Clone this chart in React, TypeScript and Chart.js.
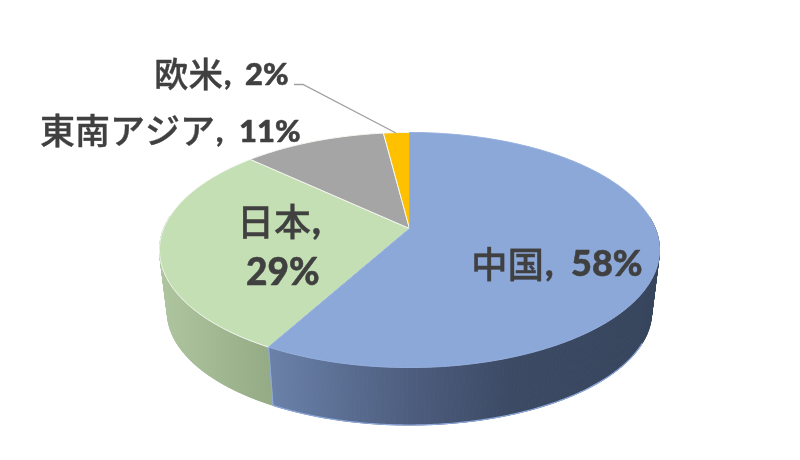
import React, { useEffect, useRef } from "react";
import { Chart, registerables } from "chart.js";

Chart.register(...registerables);

const categories = ["中国", "日本", "東南アジア", "欧米"];
const shares = [58, 29, 11, 2];
const topColors = ["#8ca8d9", "#c5dfb4", "#a5a5a5", "#ffc000"];

const INK = "#404040";
const CJK = '"Noto Sans CJK JP", "Noto Sans", sans-serif';
const LATIN = 'Lato, "Noto Sans", sans-serif';

const apexX = 409.5;
const apexY = 228.5;
const persp = 0.183;
const topRim = { a: 245.8, b: 113.6, y: apexY };
const bottomRim = { a: 238, b: 109, y: 291.6 };

type Rim = { a: number; b: number; y: number };

function project(rim: Rim, angle: number): [number, number] {
  const u = Math.cos(angle);
  const v = Math.sin(angle);
  const w = 1 - persp * v;
  return [apexX + (rim.a * u) / w, rim.y + (rim.b * v) / w];
}

function sideGradient(ctx: CanvasRenderingContext2D, index: number) {
  const g = ctx.createLinearGradient(160, 0, 660, 0);
  if (index === 0) {
    g.addColorStop(0.22, "#6a81a9");
    g.addColorStop(0.5, "#4d5d7e");
    g.addColorStop(0.7, "#3c4a64");
    g.addColorStop(1, "#36445c");
  } else if (index === 1) {
    g.addColorStop(0, "#aec5a0");
    g.addColorStop(0.22, "#94ab85");
  } else {
    g.addColorStop(0, "#808080");
    g.addColorStop(1, "#808080");
  }
  return g;
}

const labelStyle = [
  { name: [471, 278], value: [571, 276], kanji: 36.5, digits: 36 },
  { name: [237, 236], value: [246, 285], kanji: 37, digits: 37 },
  { name: [40, 144], value: [239, 142], kanji: 35, digits: 31 },
  { name: [154, 87], value: [245, 84.5], kanji: 34.5, digits: 31 },
];

const pie3d = {
  id: "pie3d",
  beforeDatasetDraw(chart: any) {
    const { ctx } = chart;
    const arcs = chart.getDatasetMeta(0).data;
    const steps = (arc: any) => Math.max(2, Math.ceil((arc.endAngle - arc.startAngle) / 0.015));

    arcs.forEach((arc: any, i: number) => {
      if (i > 1) return;
      const g = sideGradient(ctx, i);
      ctx.fillStyle = g;
      ctx.strokeStyle = g;
      ctx.lineWidth = 1;
      const n = steps(arc);
      for (let k = 0; k < n; k++) {
        const a0 = arc.startAngle + ((arc.endAngle - arc.startAngle) * k) / n;
        const a1 = arc.startAngle + ((arc.endAngle - arc.startAngle) * (k + 1)) / n;
        if (Math.sin(a1) < -0.1 && Math.sin(a0) < -0.1) continue;
        const p = [project(topRim, a0), project(topRim, a1), project(bottomRim, a1), project(bottomRim, a0)];
        ctx.beginPath();
        p.forEach(([x, y], j) => (j ? ctx.lineTo(x, y) : ctx.moveTo(x, y)));
        ctx.closePath();
        ctx.fill();
        ctx.stroke();
      }
    });

    // light rim along the front of the blue side, from the green boundary to the right edge
    const blue = arcs[0];
    ctx.strokeStyle = "#8ea9db";
    ctx.lineWidth = 1.2;
    ctx.beginPath();
    const [sx, sy] = project(topRim, blue.endAngle);
    ctx.moveTo(sx, sy);
    const n = 160;
    const stop = 0.45;
    for (let k = 0; k <= n; k++) {
      const a = blue.endAngle + ((stop - blue.endAngle) * k) / n;
      const [x, y] = project(bottomRim, a);
      ctx.lineTo(x, y);
    }
    ctx.stroke();

    [1, 2, 3, 0].forEach((i) => {
      const arc = arcs[i];
      const m = Math.max(2, Math.ceil((arc.endAngle - arc.startAngle) / 0.01));
      ctx.beginPath();
      ctx.moveTo(apexX, apexY);
      for (let k = 0; k <= m; k++) {
        const [x, y] = project(topRim, arc.startAngle + ((arc.endAngle - arc.startAngle) * k) / m);
        ctx.lineTo(x, y);
      }
      ctx.closePath();
      ctx.fillStyle = arc.options.backgroundColor;
      ctx.fill();
      ctx.strokeStyle = i === 0 ? "#95afdd" : "#f4f7f0";
      ctx.lineWidth = 1;
      ctx.stroke();
    });
    return false;
  },
  afterDatasetsDraw(chart: any) {
    const { ctx } = chart;
    ctx.strokeStyle = "#a0a0a0";
    ctx.lineWidth = 1.3;
    ctx.beginPath();
    ctx.moveTo(294, 84.5);
    ctx.lineTo(303, 84.5);
    ctx.lineTo(396, 133);
    ctx.stroke();

    ctx.textBaseline = "alphabetic";
    ctx.textAlign = "left";
    ctx.fillStyle = INK;
    ctx.strokeStyle = INK;
    ctx.lineJoin = "round";
    categories.forEach((name, i) => {
      const st = labelStyle[i];
      ctx.font = `500 ${st.kanji}px ${CJK}`;
      ctx.lineWidth = 0.35;
      ctx.fillText(name, st.name[0], st.name[1]);
      ctx.strokeText(name, st.name[0], st.name[1]);
      const end = st.name[0] + ctx.measureText(name).width;
      ctx.font = `900 ${st.digits}px ${LATIN}`;
      ctx.lineWidth = 0.5;
      ctx.fillText(",", end + 1, st.name[1] - 2);
      ctx.strokeText(",", end + 1, st.name[1] - 2);
      ctx.fillText(shares[i] + "%", st.value[0], st.value[1]);
      ctx.strokeText(shares[i] + "%", st.value[0], st.value[1]);
    });
  },
};

export default function App() {
  const ref = useRef<HTMLCanvasElement>(null);
  useEffect(() => {
    const chart = new Chart(ref.current!, {
      type: "pie",
      data: {
        labels: categories,
        datasets: [{ data: shares, backgroundColor: topColors, borderWidth: 0 }],
      },
      options: {
        animation: false,
        responsive: false,
        plugins: { legend: { display: false }, tooltip: { enabled: false } },
      },
      plugins: [pie3d],
    } as any);
    return () => chart.destroy();
  }, []);
  return (
    <div style={{ position: "absolute", left: 0, top: 0, width: 800, height: 460, background: "#fff" }}>
      <canvas ref={ref} width={800} height={460} style={{ display: "block" }} />
    </div>
  );
}
